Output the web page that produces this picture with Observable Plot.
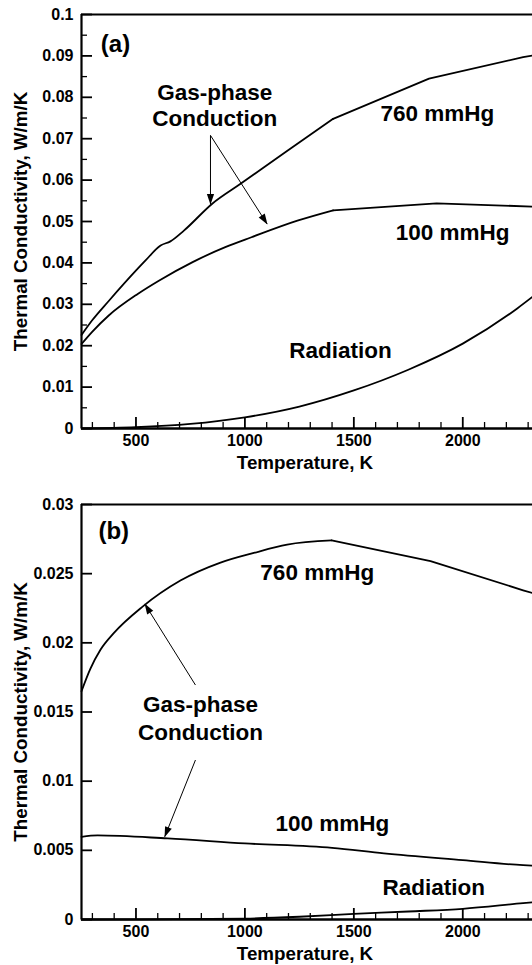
<!DOCTYPE html>
<html><head><meta charset="utf-8">
<script src="https://cdn.jsdelivr.net/npm/d3@7"></script>
<script src="https://cdn.jsdelivr.net/npm/@observablehq/plot@0.6"></script>
<style>
html,body{margin:0;padding:0;background:#fff;overflow:hidden}
#chart svg{display:block}
</style></head><body><div id="chart"></div>
<script>
// ---- shared x axis ----
const xDomain = [250, 2320];
const xMajor = [500, 1000, 1500, 2000];
const xMinor = [300,400,600,700,800,900,1100,1200,1300,1400,1600,1700,1800,1900,2100,2200,2300];
const xTitle = "Temperature, K";
const yTitle = "Thermal Conductivity, W/m/K";

// ---- panel (a) ----
const tA760 = [250,300,375,508,544,613,658,720,850,980,1195,1405,1845,2277,2320];
const kA760 = [0.0226,0.0262,0.0308,0.0386,0.0406,0.0442,0.0452,0.0478,0.0543,0.0591,0.0671,0.0748,0.0845,0.0897,0.0901];
const kinkA760 = 11; // straight segments from this point on
const tA100 = [250,300,375,508,605,760,910,1030,1241,1405,1880,2320];
const kA100 = [0.0204,0.0234,0.0273,0.0325,0.0357,0.0402,0.0438,0.0462,0.0502,0.0527,0.0544,0.0536];
const kinkA100 = 9;
const tARad = [250,500,750,1000,1250,1500,1750,2000,2250,2320];
const kARad = [0,0.0003,0.0011,0.0027,0.0053,0.0092,0.0142,0.0205,0.0290,0.0318];
const kinkARad = 10;
const yDomainA = [0, 0.1];
const yMajorA = [0,0.01,0.02,0.03,0.04,0.05,0.06,0.07,0.08,0.09,0.1];
const yMinorA = [0.005,0.015,0.025,0.035,0.045,0.055,0.065,0.075,0.085,0.095];
const labelsA = ["(a)","Gas-phase","Conduction","760 mmHg","100 mmHg","Radiation"];
const labelTA = [406, 862, 862, 1883, 1953, 1439];
const labelKA = [0.0929, 0.081, 0.0748, 0.076, 0.0473, 0.0188];
const labelSizeA = [24, 22.5, 22.5, 22.5, 22.5, 22.5];
const arrowT1A = [842, 842], arrowK1A = [0.0708, 0.0708];
const arrowT2A = [842, 1102], arrowK2A = [0.0542, 0.0494];

// ---- panel (b) ----
const tB760 = [250,290,337,398,529,704,888,1041,1194,1398,1852,2277,2320];
const kB760 = [0.0165,0.0181,0.0195,0.0207,0.0226,0.0245,0.0258,0.0265,0.0271,0.0274,0.0259,0.0238,0.0236];
const kinkB760 = 9;
const tB100 = [250,324,645,1000,1400,1638,2000,2277,2320];
const kB100 = [0.00598,0.00608,0.00586,0.0055,0.00518,0.00478,0.00429,0.00393,0.0039];
const kinkB100 = 9;
const tBRad = [250,500,1000,1250,1500,1750,2000,2277,2320];
const kBRad = [0,0.00001,0.00007,0.0002,0.0004,0.00058,0.00077,0.00118,0.00124];
const kinkBRad = 9;
const yDomainB = [0, 0.03];
const yMajorB = [0,0.005,0.01,0.015,0.02,0.025,0.03];
const yMinorB = [];
const labelsB = ["(b)","760 mmHg","Gas-phase","Conduction","100 mmHg","Radiation"];
const labelTB = [398, 1332, 796, 796, 1401, 1867];
const labelKB = [0.02805, 0.02504, 0.0155, 0.01353, 0.0069, 0.00232];
const labelSizeB = [24, 22.5, 22.5, 22.5, 22.5, 22.5];
const arrowT1B = [773, 773], arrowK1B = [0.01695, 0.01153];
const arrowT2B = [541, 632], arrowK2B = [0.02280, 0.00598];

const rows = (T, K) => T.map((t, i) => ({t, k: K[i]}));
const FONT = "'Liberation Sans', Arial, Helvetica, sans-serif";

function seriesMarks(T, K, kink) {
  const d = rows(T, K);
  const marks = [Plot.line(d.slice(0, kink + 1), {x: "t", y: "k", stroke: "#000", strokeWidth: 1.8, curve: "monotone-x"})];
  if (kink < d.length - 1) marks.push(Plot.line(d.slice(kink), {x: "t", y: "k", stroke: "#000", strokeWidth: 1.8, curve: "linear"}));
  return marks;
}

function panel(o) {
  const W = 532, ML = 81;
  const innerW = W - ML;
  const innerH = o.height - o.mt - o.mb;
  const labels = o.labels.map((s, i) => ({s, t: o.lt[i], k: o.lk[i], size: o.ls[i]}));
  const arrows = o.at1.map((t1, i) => ({t1, k1: o.ak1[i], t2: o.at2[i], k2: o.ak2[i]}));
  const svg = Plot.plot({
    width: W, height: o.height,
    marginLeft: ML, marginRight: 0, marginTop: o.mt, marginBottom: o.mb,
    x: {domain: xDomain},
    y: {domain: o.yDomain},
    style: {fontFamily: FONT, fontWeight: "bold", background: "#fff", color: "#000"},
    marks: [
      Plot.tickX(xMinor, {x: d => d, insetTop: innerH - 6, strokeWidth: 1.3, stroke: "#000"}),
      Plot.tickX(xMajor, {x: d => d, insetTop: innerH - 11, strokeWidth: 1.8, stroke: "#000"}),
      Plot.tickY(o.yMinor, {y: d => d, insetRight: innerW - 6, strokeWidth: 1.3, stroke: "#000"}),
      Plot.tickY(o.yMajor, {y: d => d, insetRight: innerW - 11, strokeWidth: 1.8, stroke: "#000"}),
      Plot.ruleX([xDomain[0]], {strokeWidth: 2.2, stroke: "#000"}),
      Plot.ruleY([o.yDomain[1]], {strokeWidth: 2, stroke: "#000"}),
      Plot.ruleY([0], {strokeWidth: 2.6, stroke: "#000"}),
      Plot.axisX({ticks: xMajor, tickSize: 0, tickPadding: 6, tickFormat: d => String(d), fontSize: 16, label: null}),
      Plot.axisY({ticks: o.yMajor, tickSize: 0, tickPadding: 8, tickFormat: d3.format("~g"), fontSize: 16, label: null}),
      ...o.series.flatMap(s => seriesMarks(s[0], s[1], s[2])),
      Plot.link(arrows, {x1: "t1", y1: "k1", x2: "t2", y2: "k2", stroke: "#000", strokeWidth: 1, markerEnd: "arrow"}),
      ...labels.map(l => Plot.text([l], {x: "t", y: "k", text: "s", fontSize: l.size, fill: "#000", textAnchor: "middle", lineAnchor: "middle"})),
      Plot.text([xTitle], {text: d => d, frameAnchor: "bottom", dy: 34, dx: -2, fontSize: 18.8, fill: "#000", textAnchor: "middle", lineAnchor: "middle"}),
      Plot.text([yTitle], {text: d => d, frameAnchor: "left", dx: -61, rotate: -90, fontSize: 18.8, fill: "#000", textAnchor: "middle", lineAnchor: "middle"})
    ]
  });
  d3.select(svg).selectAll("marker")
    .attr("viewBox", "-11 -5 12 10")
    .attr("markerWidth", 12).attr("markerHeight", 10)
    .attr("markerUnits", "userSpaceOnUse")
    .attr("fill", "#000").attr("stroke", "none")
    .selectAll("path")
    .attr("d", "M-10,-3.6L0.6,0L-10,3.6Z")
    .attr("fill", "#000").attr("stroke", "none");
  return svg;
}

const root = document.getElementById("chart");
root.appendChild(panel({
  height: 480, mt: 14, mb: 52, yDomain: yDomainA, yMajor: yMajorA, yMinor: yMinorA,
  series: [[tA760, kA760, kinkA760], [tA100, kA100, kinkA100], [tARad, kARad, kinkARad]],
  labels: labelsA, lt: labelTA, lk: labelKA, ls: labelSizeA,
  at1: arrowT1A, ak1: arrowK1A, at2: arrowT2A, ak2: arrowK2A
}));
root.appendChild(panel({
  height: 485, mt: 24, mb: 46, yDomain: yDomainB, yMajor: yMajorB, yMinor: yMinorB,
  series: [[tB760, kB760, kinkB760], [tB100, kB100, kinkB100], [tBRad, kBRad, kinkBRad]],
  labels: labelsB, lt: labelTB, lk: labelKB, ls: labelSizeB,
  at1: arrowT1B, ak1: arrowK1B, at2: arrowT2B, ak2: arrowK2B
}));
</script></body></html>
